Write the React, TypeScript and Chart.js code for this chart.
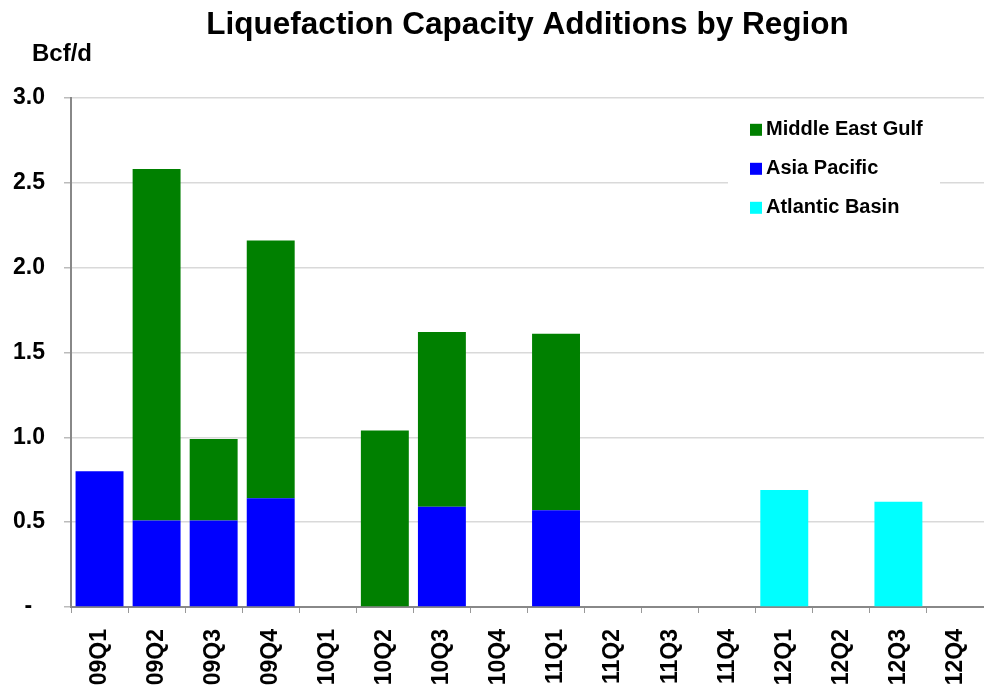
import React, { useEffect, useRef } from "react";
import { Chart, registerables } from "chart.js";

Chart.register(...registerables);

const quarters = ["09Q1", "09Q2", "09Q3", "09Q4", "10Q1", "10Q2", "10Q3", "10Q4", "11Q1", "11Q2", "11Q3", "11Q4", "12Q1", "12Q2", "12Q3", "12Q4"];
const asiaPacific = [0.8, 0.51, 0.51, 0.64, null, null, 0.59, null, 0.57, null, null, null, null, null, null, null];
const middleEastGulf = [null, 2.07, 0.48, 1.52, null, 1.04, 1.03, null, 1.04, null, null, null, null, null, null, null];
const atlanticBasin = [null, null, null, null, null, null, null, null, null, null, null, null, 0.69, null, 0.62, null];
const yTicks = [0, 0.5, 1.0, 1.5, 2.0, 2.5, 3.0];
const unitLabel = "Bcf/d";
const titleText = "Liquefaction Capacity Additions by Region";

const FONT = "'Liberation Sans', Arial, sans-serif";
const GREEN = "#008000";
const BLUE = "#0000FF";
const CYAN = "#00FFFF";

const legendItems = [
  { label: "Middle East Gulf", color: GREEN },
  { label: "Asia Pacific", color: BLUE },
  { label: "Atlantic Basin", color: CYAN },
];

const extrasPlugin = {
  id: "extras",
  afterDraw(chart: any) {
    const { ctx, chartArea } = chart;
    ctx.save();
    ctx.font = `bold 24px ${FONT}`;
    ctx.fillStyle = "#000";
    ctx.textAlign = "left";
    ctx.textBaseline = "middle";
    ctx.fillText(unitLabel, chartArea.left - 39, chartArea.top - 43);
    const bx = chartArea.right - 256;
    const by = chartArea.top + 10;
    ctx.fillStyle = "#fff";
    ctx.fillRect(bx, by, 212, 114);
    ctx.font = `bold 20px ${FONT}`;
    legendItems.forEach((it, i) => {
      const cy = chartArea.top + 32 + i * 39;
      ctx.fillStyle = it.color;
      ctx.fillRect(bx + 22, cy - 6, 12, 12);
      ctx.fillStyle = "#000";
      ctx.fillText(it.label, bx + 38, cy);
    });
    ctx.restore();
  },
};

export default function App() {
  const ref = useRef<HTMLCanvasElement | null>(null);
  useEffect(() => {
    if (!ref.current) return;
    const chart = new Chart(ref.current, {
      type: "bar",
      data: {
        labels: quarters,
        datasets: [
          { label: "Asia Pacific", data: asiaPacific, backgroundColor: BLUE, borderWidth: 0 },
          { label: "Middle East Gulf", data: middleEastGulf, backgroundColor: GREEN, borderWidth: 0 },
          { label: "Atlantic Basin", data: atlanticBasin, backgroundColor: CYAN, borderWidth: 0 },
        ],
      },
      options: {
        animation: false,
        responsive: false,
        maintainAspectRatio: false,
        layout: { padding: { left: 12, right: 0, top: 0, bottom: 0 } },
        datasets: { bar: { categoryPercentage: 1, barPercentage: 0.84 } },
        plugins: {
          legend: { display: false },
          tooltip: { enabled: false },
          title: {
            display: true,
            text: titleText,
            fullSize: false,
            color: "#000",
            font: { family: FONT, size: 31.5, weight: "bold" },
            padding: { top: 6, bottom: 54 },
          },
        },
        scales: {
          x: {
            stacked: true,
            afterFit(scale: any) {
              scale.height = 85;
              scale.paddingLeft = 0;
              scale.paddingRight = 0;
            },
            grid: { display: true, drawOnChartArea: false, drawTicks: true, tickLength: 6, color: "#999", offset: true },
            border: { display: true, color: "#888", width: 2 },
            ticks: {
              color: "#000",
              font: { family: FONT, size: 23, weight: "bold" },
              minRotation: 90,
              maxRotation: 90,
              padding: 16,
              autoSkip: false,
            },
          },
          y: {
            stacked: true,
            min: 0,
            max: 3,
            afterBuildTicks(scale: any) {
              scale.ticks = yTicks.map((v) => ({ value: v }));
            },
            afterFit(scale: any) {
              scale.width = 59;
            },
            grid: { color: "#d9d9d9", lineWidth: 1.5, tickLength: 7, tickColor: "#bbb" },
            border: { display: true, color: "#888", width: 2 },
            ticks: {
              color: "#000",
              font: { family: FONT, size: 23, weight: "bold" },
              padding: 19,
              callback: (v: any) => (Number(v) === 0 ? "-  " : Number(v).toFixed(1)),
            },
          },
        },
      },
      plugins: [extrasPlugin],
    });
    return () => chart.destroy();
  }, []);
  return (
    <div style={{ position: "absolute", left: 0, top: 0, width: 984, height: 692, background: "#fff" }}>
      <canvas ref={ref} width={984} height={692} style={{ width: 984, height: 692 }} />
    </div>
  );
}
